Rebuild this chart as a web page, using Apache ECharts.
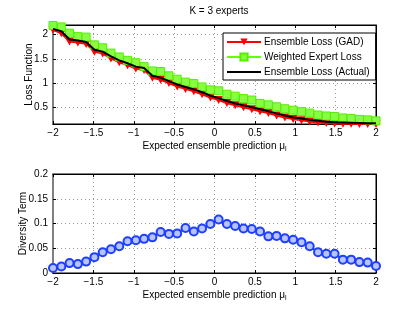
<!DOCTYPE html>
<html>
<head>
<meta charset="utf-8">
<script src="https://cdn.jsdelivr.net/npm/echarts@6/dist/echarts.min.js"></script>
<style>html,body{margin:0;padding:0;background:#fff}#c{width:415px;height:312px}</style>
</head>
<body>
<div id="c"></div>
<script>
// sample positions of the expected ensemble prediction
const xs = [-2.000,-1.897,-1.795,-1.692,-1.590,-1.487,-1.385,-1.282,-1.179,-1.077,
  -0.974,-0.872,-0.769,-0.667,-0.564,-0.462,-0.359,-0.256,-0.154,-0.051,
  0.051,0.154,0.256,0.359,0.462,0.564,0.667,0.769,0.872,0.974,
  1.077,1.179,1.282,1.385,1.487,1.590,1.692,1.795,1.897,2.000];
const gadLoss = [2.10,2.03,1.86,1.84,1.81,1.65,1.61,1.51,1.43,1.37,
  1.30,1.27,1.11,1.07,1.00,0.93,0.88,0.83,0.77,0.70,
  0.65,0.59,0.54,0.50,0.46,0.42,0.38,0.33,0.29,0.26,
  0.23,0.205,0.185,0.175,0.165,0.16,0.16,0.155,0.155,0.155];
const weightedExpertLoss = [2.19,2.16,2.03,1.96,1.95,1.79,1.73,1.62,1.54,1.47,
  1.42,1.34,1.25,1.24,1.15,1.08,1.02,0.99,0.92,0.86,
  0.84,0.77,0.73,0.68,0.65,0.58,0.55,0.51,0.47,0.44,
  0.41,0.38,0.34,0.32,0.31,0.28,0.27,0.25,0.24,0.22];
const actualLoss = [2.12,2.07,1.90,1.88,1.85,1.69,1.65,1.55,1.47,1.41,
  1.34,1.31,1.15,1.11,1.04,0.97,0.92,0.87,0.81,0.74,
  0.69,0.63,0.58,0.54,0.50,0.46,0.42,0.37,0.33,0.29,
  0.27,0.24,0.22,0.20,0.19,0.185,0.18,0.175,0.17,0.17];
const diversity = [0.010,0.013,0.020,0.018,0.023,0.032,0.042,0.048,0.054,0.064,
  0.066,0.069,0.072,0.083,0.079,0.080,0.091,0.084,0.090,0.099,
  0.108,0.099,0.095,0.090,0.089,0.084,0.074,0.075,0.070,0.067,
  0.062,0.054,0.042,0.039,0.039,0.027,0.027,0.022,0.021,0.014];
const xTicks = [-2,-1.5,-1,-0.5,0,0.5,1,1.5,2];
const topYTicks = [0.5,1,1.5,2];
const bottomYTicks = [0,0.05,0.1,0.15,0.2];
const names = ['Ensemble Loss (GAD)','Weighted Expert Loss','Ensemble Loss (Actual)'];
const title = 'K = 3 experts';
const xName = 'Expected ensemble prediction μ{s|l}';
const yNameTop = 'Loss Function';
const yNameBottom = 'Diversity Term';

const pair = (ys) => xs.map((x, i) => [x, ys[i]]);
const fmt = v => String(v).replace('-', '\u2212');
const FONT = 'Liberation Sans';
const txt = {fontFamily: FONT, fontSize: 10, color: '#000'};
const grid1 = {left: 53, top: 25, width: 323, height: 99};
const grid2 = {left: 53, top: 174, width: 323, height: 99};

function xAxisDef(gi, main) {
  return {
    type: 'value', gridIndex: gi, min: -2, max: 2, interval: 0.5,
    position: main ? 'bottom' : 'top',
    name: main ? xName : '', nameLocation: 'middle', nameGap: 16, nameMoveOverlap: false,
    nameTextStyle: Object.assign({}, txt, {rich: {s: {fontFamily: FONT, fontSize: 7, verticalAlign: 'bottom', padding: [6, 0, 0, 0]}}}),
    axisLine: {show: true, onZero: false, lineStyle: {color: '#000', width: 1}},
    axisTick: {show: true, inside: true, length: 3, lineStyle: {color: '#000'}},
    axisLabel: main ? Object.assign({}, txt, {margin: 4, formatter: fmt}) : {show: false},
    splitLine: {show: main, lineStyle: {type: [1, 3], color: '#999', width: 1}}
  };
}
function yAxisDef(gi, main, min, max, ticks, name, gap) {
  return {
    type: 'value', gridIndex: gi, min: min, max: max,
    position: main ? 'left' : 'right',
    name: main ? name : '', nameLocation: 'middle', nameGap: gap, nameMoveOverlap: false,
    nameTextStyle: txt,
    axisLine: {show: true, onZero: false, lineStyle: {color: main ? '#808080' : '#000', width: main ? 2 : 1}},
    axisTick: {show: true, inside: true, length: 3, customValues: ticks, lineStyle: {color: '#000'}},
    axisLabel: main ? Object.assign({}, txt, {margin: 5, customValues: ticks, formatter: fmt}) : {show: false, customValues: ticks},
    splitLine: {show: main, lineStyle: {type: [1, 3], color: '#999', width: 1}}
  };
}

const chart = echarts.init(document.getElementById('c'), null, {renderer: 'canvas'});
chart.setOption({
  animation: false,
  backgroundColor: '#fff',
  title: {text: title, left: 214, top: 1, textAlign: 'center',
    textStyle: {fontFamily: FONT, fontSize: 10, fontWeight: 'normal', color: '#000'}},
  legend: {
    orient: 'vertical', left: 223, top: 33,
    data: [names[0], names[1], {name: names[2], icon: 'path://M0,0L34,0L34,2L0,2Z'}],
    symbolKeepAspect: true,
    backgroundColor: '#fff', borderColor: '#000', borderWidth: 1,
    padding: [4, 6, 3, 3], itemGap: 5, itemWidth: 34, itemHeight: 9,
    textStyle: Object.assign({}, txt, {padding: [0, 0, 0, -2]})
  },
  grid: [
    Object.assign({show: true, borderColor: '#000', borderWidth: 1, backgroundColor: 'transparent'}, grid1),
    Object.assign({show: true, borderColor: '#000', borderWidth: 1, backgroundColor: 'transparent'}, grid2)
  ],
  xAxis: [xAxisDef(0, true), xAxisDef(1, true), xAxisDef(0, false), xAxisDef(1, false)],
  yAxis: [
    yAxisDef(0, true, 0.155, 2.2, topYTicks, yNameTop, 19),
    yAxisDef(1, true, 0, 0.2, bottomYTicks, yNameBottom, 25),
    yAxisDef(0, false, 0.155, 2.2, topYTicks, '', 0),
    yAxisDef(1, false, 0, 0.2, bottomYTicks, '', 0)
  ],
  series: [
    {name: names[0], type: 'line', xAxisIndex: 0, yAxisIndex: 0, data: pair(gadLoss),
      symbol: 'triangle', symbolRotate: 180, symbolSize: [9, 8], showAllSymbol: true,
      lineStyle: {color: '#ff0000', width: 2}, itemStyle: {color: '#ff0000'}, z: 2},
    {name: names[1], type: 'line', xAxisIndex: 0, yAxisIndex: 0, data: pair(weightedExpertLoss),
      symbol: 'rect', symbolSize: 8, showAllSymbol: true,
      lineStyle: {color: '#66ff00', width: 2}, itemStyle: {color: '#88ff44', borderColor: '#55ee00', borderWidth: 1}, z: 3},
    {name: names[2], type: 'line', xAxisIndex: 0, yAxisIndex: 0, data: pair(actualLoss),
      symbol: 'none', lineStyle: {color: '#000', width: 2}, itemStyle: {color: '#000'}, z: 4},
    {name: 'Diversity', type: 'line', xAxisIndex: 1, yAxisIndex: 1, data: pair(diversity),
      symbol: 'circle', symbolSize: 8, showAllSymbol: true,
      lineStyle: {color: '#1f3fff', width: 2},
      itemStyle: {color: '#b8c4ff', borderColor: '#1f3fff', borderWidth: 2}, z: 2}
  ]
});
</script>
</body>
</html>
